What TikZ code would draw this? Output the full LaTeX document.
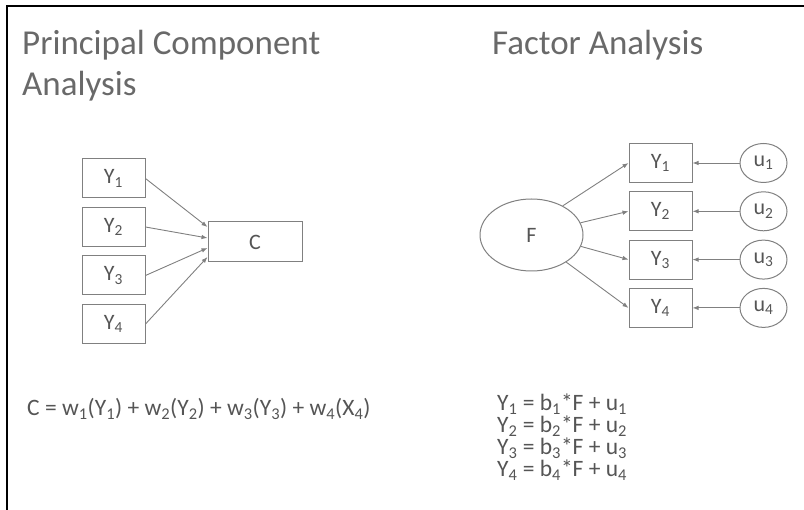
\documentclass[tikz,border=0pt]{standalone}
\usepackage{fontspec}
\setmainfont{Carlito}
\usepackage{tikz}
\usetikzlibrary{arrows.meta, positioning, shapes.geometric}

\definecolor{linegray}{RGB}{128,128,128}
\definecolor{textgray}{RGB}{85,85,85}
\definecolor{headgray}{RGB}{105,105,105}
\newcommand{\sub}[1]{\textsubscript{#1}}

\begin{document}
\begin{tikzpicture}[
    x=1pt, y=-1pt,
    head/.style={anchor=base west, inner sep=0pt, align=left, text=headgray,
                 font=\fontsize{35}{41}\selectfont},
    var/.style={draw=linegray, line width=1pt, minimum width=63pt,
                minimum height=39pt, inner sep=0pt, text=textgray,
                font=\fontsize{22}{26}\selectfont},
    comp/.style={var, minimum width=94pt, minimum height=40pt},
    latent/.style={var, ellipse, minimum width=103pt, minimum height=72pt},
    err/.style={latent, minimum width=47pt, minimum height=39pt},
    eq/.style={anchor=base west, inner sep=0pt, align=left, text=textgray,
               font=\fontsize{23.5}{22}\selectfont},
    arr/.style={-{Latex[length=6pt, width=4.5pt]}, draw=linegray, line width=0.9pt}]
  \useasboundingbox (0,0) rectangle (804,510);
  \draw[line width=2.5pt] (7,510) -- (7,6) -- (804,6);

  % PCA: observed items feed the component (base = last line)
  \node[head] (pcaHead) at (22,96) {Principal Component\\Analysis};
  \node[var] (y1) at (113.5,178.5) {Y\sub{1}};
  \node[var, below=8.5pt of y1] (y2) {Y\sub{2}};
  \node[var, below=8.5pt of y2] (y3) {Y\sub{3}};
  \node[var, below=8.5pt of y3] (y4) {Y\sub{4}};
  \node[comp] (c) at (255,242) {C};

  \draw[arr] (y1.east) -- ([yshift=15pt]c.west);
  \draw[arr] (y2.east) -- ([yshift=4pt]c.west);
  \draw[arr] (y3.east) -- ([yshift=-6pt]c.west);
  \draw[arr] (y4.east) -- ([yshift=-15pt]c.west);

  \node[eq] (pcaEq) at (27,416)
    {C = w\sub{1}(Y\sub{1}) + w\sub{2}(Y\sub{2}) + w\sub{3}(Y\sub{3}) + w\sub{4}(X\sub{4})};

  % FA: latent factor plus unique parts
  \node[head] (faHead) at (492,55) {Factor Analysis};
  \node[latent] (f) at (531.5,235) {F};
  \node[var] (x1) at (660.5,163) {Y\sub{1}};
  \node[var, below=8.3pt of x1] (x2) {Y\sub{2}};
  \node[var, below=8.3pt of x2] (x3) {Y\sub{3}};
  \node[var, below=8.3pt of x3] (x4) {Y\sub{4}};
  \foreach \i/\a in {1/43, 2/14, 3/-13, 4/-38} {
    \node[err, right=47pt of x\i] (u\i) {u\sub{\i}};
    \draw[arr] (f.\a) -- (x\i.west);
    \draw[arr] (u\i.west) -- (x\i.east);
  }

  % base of a multi-line node sits on its last line
  \node[eq] (faEq) at (497,477)
    {Y\sub{1} = b\sub{1}*F + u\sub{1}\\
     Y\sub{2} = b\sub{2}*F + u\sub{2}\\
     Y\sub{3} = b\sub{3}*F + u\sub{3}\\
     Y\sub{4} = b\sub{4}*F + u\sub{4}};
\end{tikzpicture}
\end{document}
